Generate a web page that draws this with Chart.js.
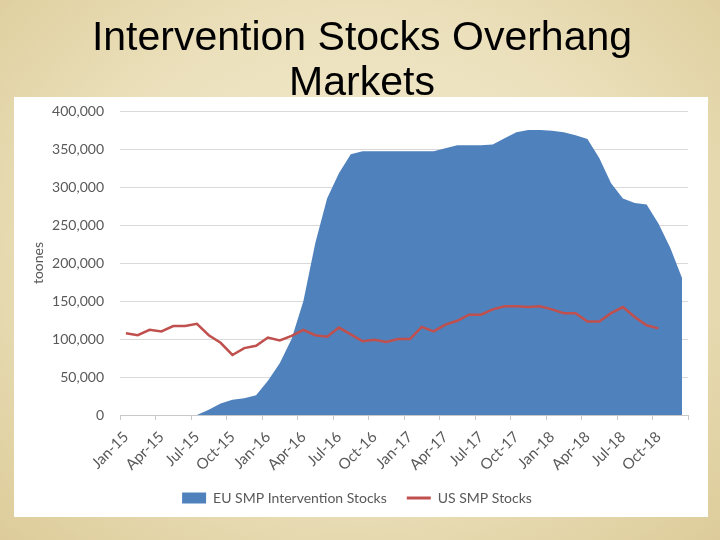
<!DOCTYPE html>
<html>
<head>
<meta charset="utf-8">
<script src="https://cdn.jsdelivr.net/npm/chart.js@4.4.1/dist/chart.umd.min.js"></script>
<style>
  html, body { margin:0; padding:0; }
  body {
    width:720px; height:540px; overflow:hidden; position:relative;
    background: radial-gradient(ellipse at 50% 45%, #f3ecd2 0%, #ebe0bb 55%, #ddcc9a 100%);
  }
  #panel { position:absolute; left:14px; top:97px; width:694px; height:420px; background:#ffffff; }
  #wrap { position:absolute; left:0; top:0; width:720px; height:540px; }
  #title {
    position:absolute; left:0; top:14px; width:724px; text-align:center;
    font-family:"Liberation Sans", Arial, sans-serif; font-size:41px; line-height:45px; color:#000;
    z-index:5;
  }
</style>
</head>
<body>
<div id="panel"></div>
<div id="wrap"><canvas id="c" width="720" height="540"></canvas></div>
<div id="title">Intervention Stocks Overhang<br>Markets</div>
<script>
const months = [
  'Jan-15','Feb-15','Mar-15','Apr-15','May-15','Jun-15','Jul-15','Aug-15','Sep-15','Oct-15','Nov-15','Dec-15',
  'Jan-16','Feb-16','Mar-16','Apr-16','May-16','Jun-16','Jul-16','Aug-16','Sep-16','Oct-16','Nov-16','Dec-16',
  'Jan-17','Feb-17','Mar-17','Apr-17','May-17','Jun-17','Jul-17','Aug-17','Sep-17','Oct-17','Nov-17','Dec-17',
  'Jan-18','Feb-18','Mar-18','Apr-18','May-18','Jun-18','Jul-18','Aug-18','Sep-18','Oct-18','Nov-18','Dec-18'
];
const euStocks = [
  0,0,0,0,0,0,0,7000,15000,20000,22000,26000,
  45000,68000,100000,150000,226000,285000,318000,343000,347000,347000,347000,347000,
  347000,347000,347000,351000,355000,355000,355000,356000,364000,372000,375000,375000,
  374000,372000,368000,363000,338000,305000,285000,279000,277000,252000,220000,180000
];
const usStocks = [
  107500,105000,112000,110000,117000,117000,120000,105000,95000,79000,88000,91000,
  102000,98000,104000,112000,105000,103000,115000,106000,97000,99000,96000,100000,
  100000,116000,110000,119000,124000,132000,132000,139000,143000,143000,142000,143000,
  139000,134000,134000,123000,123000,134000,142000,129000,118000,114000,null,null
];
const seriesNames = ['EU SMP Intervention Stocks', 'US SMP Stocks'];
const yTicks = [0, 50000, 100000, 150000, 200000, 250000, 300000, 350000, 400000];

const BLUE = '#4f81bd', RED = '#c0504d', TXT = '#595959';

new Chart(document.getElementById('c'), {
  type: 'line',
  data: {
    labels: months,
    datasets: [
      { label: seriesNames[0], data: euStocks, fill: 'origin', backgroundColor: BLUE,
        borderColor: 'rgba(0,0,0,0)', borderWidth: 0, pointRadius: 0, tension: 0, order: 2 },
      { label: seriesNames[1], data: usStocks, fill: false, borderColor: RED,
        borderWidth: 2.5, pointRadius: 0, tension: 0, order: 1, spanGaps: false }
    ]
  },
  options: {
    responsive: false,
    animation: false,
    layout: { padding: { left: 26, right: 32, top: 111, bottom: 25 } },
    plugins: {
      tooltip: { enabled: false },
      legend: {
        position: 'bottom',
        labels: {
          usePointStyle: true, pointStyleWidth: 24, boxHeight: 11,
          padding: 20, color: TXT,
          font: { family: 'Lato', size: 14 },
          generateLabels: (chart) => chart.data.datasets.map((ds, i) => ({
            text: ds.label,
            fillStyle: i === 0 ? BLUE : RED,
            strokeStyle: i === 0 ? BLUE : RED,
            lineWidth: i === 0 ? 0 : 3,
            pointStyle: i === 0 ? 'rect' : 'line',
            fontColor: TXT,
            hidden: false,
            datasetIndex: i
          }))
        }
      }
    },
    scales: {
      x: {
        type: 'category',
        offset: true,
        grid: {
          offset: true, drawOnChartArea: false, drawTicks: true, tickLength: 5,
          color: (ctx) => (ctx.type !== 'tick' || ctx.index % 3 === 0) ? '#c8c8c8' : 'rgba(0,0,0,0)'
        },
        border: { display: true, color: '#c8c8c8' },
        ticks: {
          autoSkip: false, minRotation: 45, maxRotation: 45, padding: 8,
          color: TXT, font: { family: 'Lato', size: 15 },
          callback: function(v, i) { return i % 3 === 0 ? months[i] : ''; }
        },
        afterFit: (s) => { s.height = 56; }
      },
      y: {
        min: 0, max: 400000,
        afterBuildTicks: (s) => { s.ticks = yTicks.map(v => ({ value: v })); },
        grid: { color: '#d9d9d9', drawTicks: false, lineWidth: 1 },
        border: { display: false },
        ticks: {
          padding: 16, color: TXT, font: { family: 'Lato', size: 14 },
          callback: (v) => v.toLocaleString('en-US')
        },
        title: { display: true, text: 'toones', color: TXT, font: { family: 'Lato', size: 14 } },
        afterFit: (s) => { s.width = 94; }
      }
    }
  }
});
</script>
</body>
</html>
